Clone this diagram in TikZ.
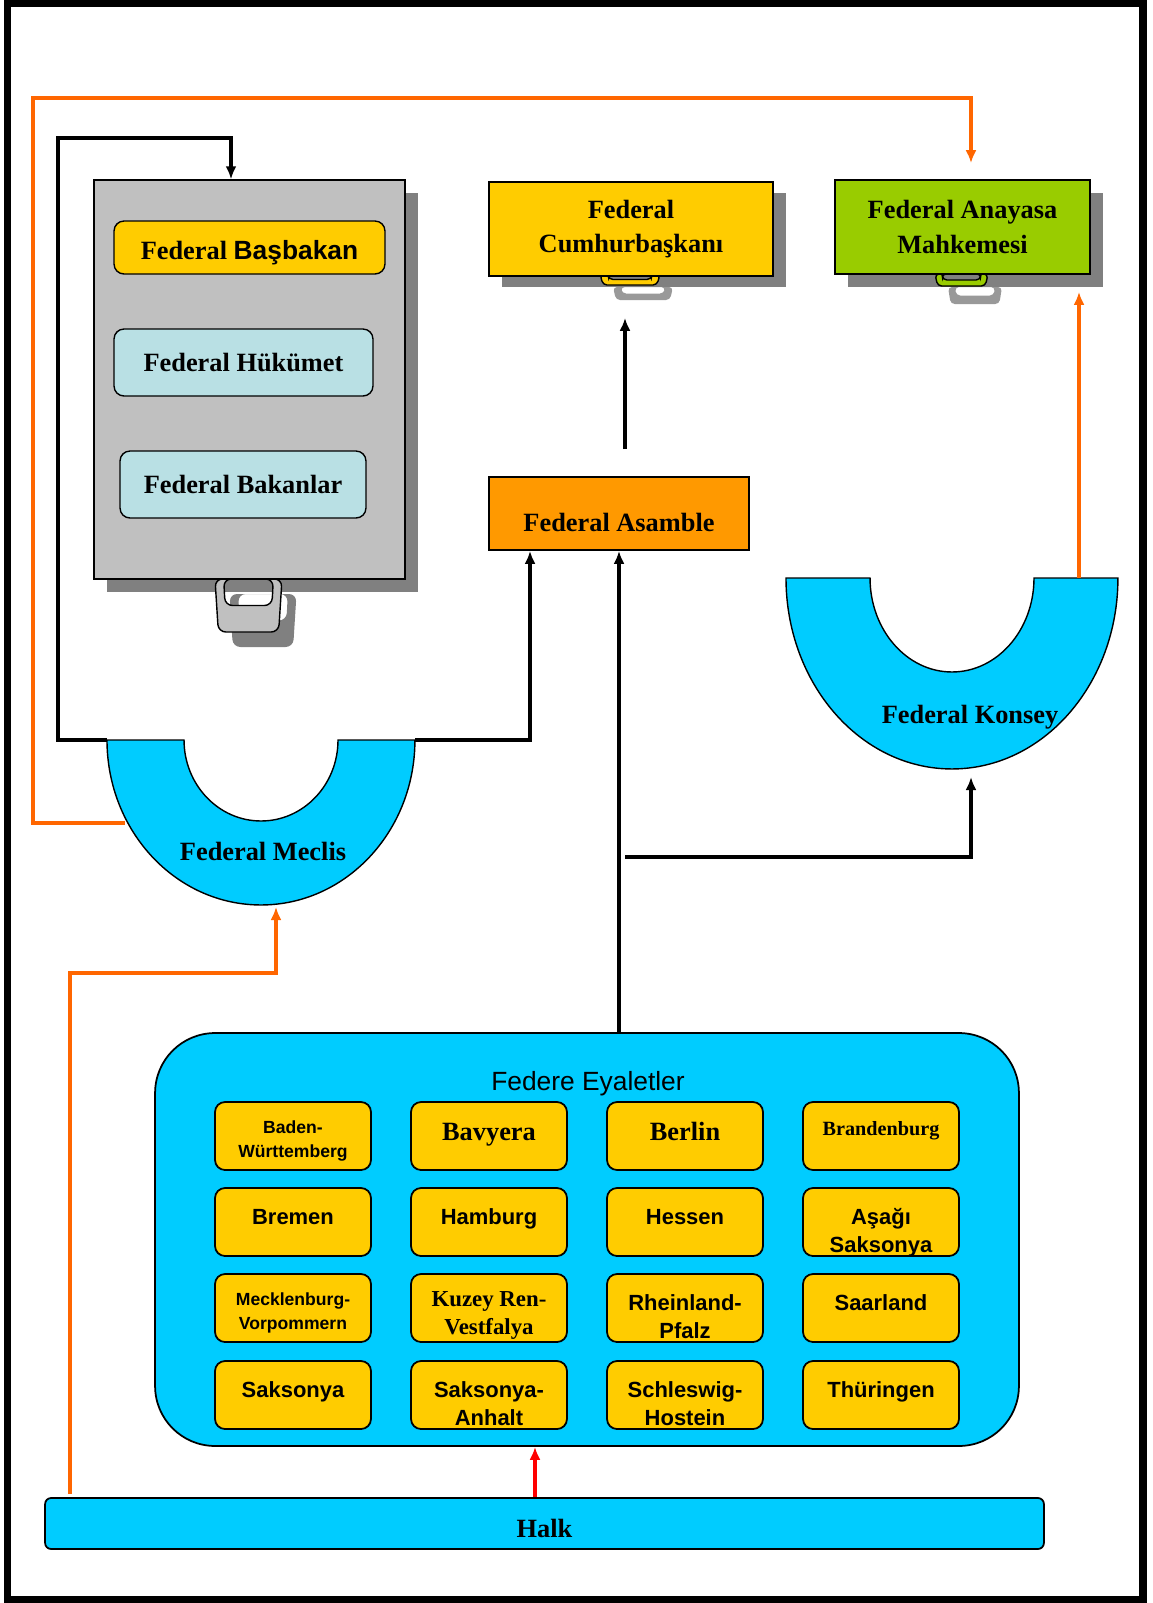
\documentclass[tikz,border=0pt]{standalone}
\usepackage{fontspec}
\setmainfont{Liberation Serif}
\newfontfamily\arialfont{Liberation Sans}
\usetikzlibrary{arrows.meta}
\usetikzlibrary{calc}

\definecolor{goldfill}{HTML}{FFCC00}
\definecolor{limefill}{HTML}{99CC00}
\definecolor{orangefill}{HTML}{FF9900}
\definecolor{skyfill}{HTML}{00CCFF}
\definecolor{palefill}{HTML}{B9E0E4}
\definecolor{boxgray}{HTML}{C0C0C0}
\definecolor{shadowgray}{HTML}{808080}
\definecolor{linkorange}{HTML}{FF6600}

\newcommand{\capstrut}{\rule{0pt}{0.96em}}

\tikzset{
  bag handle/.pic={
    \path[pic actions,even odd rule,rounded corners=#1]
      (-1,0) -- (-0.9,1) -- (0.9,1) -- (1,0) -- cycle
      (-0.74,0) -- (-0.7,0.5) -- (0.7,0.5) -- (0.74,0) -- cycle;
  },
  flatbox/.style={draw,line width=1pt,minimum height=1.88cm,align=center,
    font=\fontsize{15}{19.8}\selectfont\bfseries},
  innerbox/.style={draw,line width=0.8pt,rounded corners=0.2cm,minimum height=1.34cm,
    font=\fontsize{15}{19}\selectfont\bfseries},
  state/.style={draw,line width=1pt,fill=goldfill,rounded corners=0.2cm,
    minimum width=3.12cm,minimum height=1.36cm},
  statetext/.style={anchor=north,inner sep=0pt,yshift=-0.31cm,align=center},
  sanstext/.style={statetext,font=\arialfont\bfseries\fontsize{12.5}{16.2}\selectfont},
  smalltext/.style={statetext,font=\arialfont\bfseries\fontsize{10}{13.3}\selectfont},
  seriftext/.style={statetext,yshift=0.03cm,font=\bfseries\fontsize{15}{16}\selectfont},
  ring/.style={draw,line width=0.8pt,fill=skyfill},
  blacklink/.style={line width=2.6pt},
  orangelink/.style={line width=2.2pt,draw=linkorange},
  redlink/.style={line width=2.2pt,draw=red}
}

\begin{document}
\begin{tikzpicture}[x=0.02cm,y=-0.02cm,>={Latex[length=0.26cm,width=0.22cm]}]
  \useasboundingbox (0,0) rectangle (1153,1603);
  \draw[line width=0.15cm] (7.5,3.5) rectangle (1143,1600);

  % shadows and handles
  \fill[shadowgray] (107,193) rectangle (418,592);
  \fill[shadowgray] (502,193) rectangle (786,287);
  \fill[shadowgray] (848,193) rectangle (1103,287);
  \pic[fill=shadowgray,xscale=33.5,yscale=53] at (263,594) {bag handle=0.15cm};
  \pic[fill=shadowgray!80,xscale=30,yscale=13] at (643,287) {bag handle=0.08cm};
  \pic[fill=shadowgray!80,xscale=27,yscale=17] at (975,287) {bag handle=0.08cm};
  \pic[draw,line width=0.8pt,fill=boxgray,xscale=33.5,yscale=53] at (248.5,579) {bag handle=0.15cm};
  \pic[draw,line width=0.8pt,fill=goldfill,xscale=30,yscale=11] at (630,274) {bag handle=0.08cm};
  \pic[draw,line width=0.8pt,fill=limefill,xscale=26.5,yscale=12] at (961.5,274) {bag handle=0.08cm};

  % government
  \node[draw,line width=0.8pt,fill=boxgray,minimum width=6.22cm,minimum height=7.98cm] (gov) at (249.5,379.5) {};
  \node[innerbox,fill=goldfill,minimum width=5.42cm,minimum height=1.06cm,text height=16.5pt,text depth=3pt] (basbakan) at (249.5,247.5) {Federal {\arialfont Başbakan}};
  \node[innerbox,fill=palefill,minimum width=5.18cm] (hukumet) at (243.5,362.5) {Federal Hükümet};
  \node[innerbox,fill=palefill,minimum width=4.92cm] (bakanlar) at (243,484.5) {Federal Bakanlar};

  \node[flatbox,fill=goldfill,minimum width=5.68cm] (cumhur) at (631,229) {Federal\\Cumhurbaşkanı};
  \node[flatbox,fill=limefill,minimum width=5.1cm] (anayasa) at (962.5,227) {Federal Anayasa\\Mahkemesi};
  \node[flatbox,fill=orangefill,minimum width=5.2cm,minimum height=1.46cm,text height=20pt,text depth=0pt] (asamble) at (619,513.5) {Federal Asamble};

  % chambers
  \path[ring] (107,740) arc[start angle=180,end angle=360,x radius=3.08cm,y radius=3.3cm]
    -- (338,740) arc[start angle=0,end angle=-180,x radius=1.54cm,y radius=1.62cm] -- cycle;
  \path[ring] (786,578) arc[start angle=180,end angle=360,x radius=3.32cm,y radius=3.82cm]
    -- (1034,578) arc[start angle=0,end angle=-180,x radius=1.64cm,y radius=1.88cm] -- cycle;
  \node[font=\fontsize{15}{19}\selectfont\bfseries] (meclis) at (263,851) {Federal Meclis};
  \node[font=\fontsize{15}{19}\selectfont\bfseries] (konsey) at (970,717) {Federal Konsey};
  \coordinate (meclisNW) at (107,740);
  \coordinate (meclisNE) at (415,740);
  \coordinate (meclisW) at (125,823);
  \coordinate (meclisIn) at (276,907);
  \coordinate (konseyTop) at (1079,578);
  \coordinate (konseyIn) at (971,777);
  \coordinate (split) at (625,857);

  % states
  \node[draw,line width=1pt,fill=skyfill,rounded corners=1.2cm,minimum width=17.28cm,minimum height=8.26cm] (eyalet) at (587,1239.5) {};
  \node[font=\arialfont\fontsize{15}{18}\selectfont] (eyaletTitle) at (588,1084) {Federe Eyaletler};

  \node[state,label={[smalltext]north:{\capstrut Baden-\\Württemberg}}] (baden) at (293,1136) {};
  \node[state,label={[seriftext]north:{\capstrut Bavyera}}] (bavyera) at (489,1136) {};
  \node[state,label={[seriftext]north:{\capstrut Berlin}}] (berlin) at (685,1136) {};
  \node[state,label={[statetext,yshift=0.01cm,font=\bfseries\fontsize{11.5}{14}\selectfont]north:{\capstrut Brandenburg}}] (brandenburg) at (881,1136) {};

  \node[state,label={[sanstext]north:{\capstrut Bremen}}] (bremen) at (293,1222) {};
  \node[state,label={[sanstext]north:{\capstrut Hamburg}}] (hamburg) at (489,1222) {};
  \node[state,label={[sanstext]north:{\capstrut Hessen}}] (hessen) at (685,1222) {};
  \node[state,label={[sanstext]north:{\capstrut Aşağı\\Saksonya}}] (asagi) at (881,1222) {};

  \node[state,label={[smalltext]north:{\capstrut Mecklenburg-\\Vorpommern}}] (mecklenburg) at (293,1308) {};
  \node[state,label={[statetext,yshift=0.09cm,font=\bfseries\fontsize{13}{16}\selectfont]north:{\capstrut Kuzey Ren-\\Vestfalya}}] (kuzey) at (489,1308) {};
  \node[state,label={[sanstext]north:{\capstrut Rheinland-\\Pfalz}}] (rheinland) at (685,1308) {};
  \node[state,label={[sanstext]north:{\capstrut Saarland}}] (saarland) at (881,1308) {};

  \node[state,label={[sanstext]north:{\capstrut Saksonya}}] (saksonya) at (293,1395) {};
  \node[state,label={[sanstext]north:{\capstrut Saksonya-\\Anhalt}}] (anhalt) at (489,1395) {};
  \node[state,label={[sanstext]north:{\capstrut Schleswig-\\Hostein}}] (schleswig) at (685,1395) {};
  \node[state,label={[sanstext]north:{\capstrut Thüringen}}] (thuringen) at (881,1395) {};

  \node[draw,line width=1pt,fill=skyfill,rounded corners=0.12cm,minimum width=19.98cm,minimum height=1.02cm,
    text height=16pt,text depth=0pt,font=\fontsize{15}{19}\selectfont\bfseries] (halk) at (544.5,1523.5) {Halk};
  \coordinate (halkW) at (70,1494);

  % connectors
  \draw[orangelink,->] (meclisW) -- (33,823) -- (33,98) -| ([xshift=0.17cm,yshift=0.32cm]anayasa.north);
  \draw[blacklink,->] (meclisNW) -- (58,740) -- (58,138) -| ([xshift=-0.37cm]gov.north);
  \draw[blacklink,->] (meclisNE) -| ([xshift=-1.78cm]asamble.south);
  \draw[blacklink,->] (asamble.south |- eyalet.north) -- (asamble.south);
  \draw[blacklink,->] (split) -| (konseyIn);
  \draw[blacklink,->,shorten <=0.54cm,shorten >=0.82cm] ([xshift=0.12cm]asamble.north) -- ([xshift=0.12cm]asamble.north |- cumhur.south);
  \draw[orangelink,->,shorten >=0.34cm] (konseyTop) -- (konseyTop |- anayasa.south);
  \draw[orangelink,->] (halkW) -- (70,973) -| (meclisIn);
  \draw[redlink,->] ([xshift=-0.19cm]halk.north) -- ([xshift=-0.19cm]halk.north |- eyalet.south);
\end{tikzpicture}
\end{document}
